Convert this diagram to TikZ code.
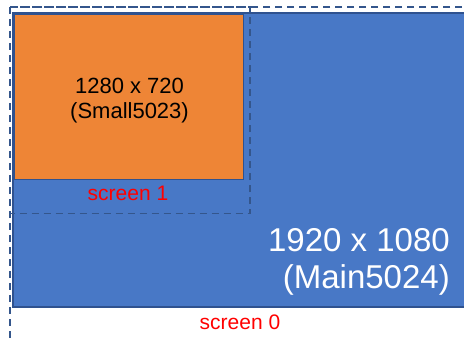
\documentclass[tikz,border=0pt]{standalone}
\usepackage{fontspec}
\setmainfont{Liberation Sans}
\definecolor{mainblue}{HTML}{4878C6}
\definecolor{edgeblue}{HTML}{2F528F}
\definecolor{smallorange}{HTML}{EE8536}
\definecolor{dashblue}{HTML}{34568C}
\tikzset{
  screenbox/.style={draw=dashblue, line width=1.6pt, dash pattern=on 7pt off 5pt},
  monitor/.style={draw=edgeblue, line width=1.3pt},
  smalltext/.style={inner sep=0pt, anchor=base, font=\fontsize{22}{24}\selectfont},
  bigtext/.style={inner sep=0pt, anchor=base east, text=white, font=\fontsize{33}{36}\selectfont},
  screenlabel/.style={text=red, inner sep=0pt, anchor=base, font=\fontsize{21}{24}\selectfont},
}
\begin{document}
\begin{tikzpicture}[x=1pt, y=-1pt]
\useasboundingbox (0,0) rectangle (464,338);
\clip (0,0) rectangle (464,338);
% main monitor
\fill[mainblue] (13,13) rectangle (475,307);
\draw[monitor] (13,13) rectangle (475,307);
% secondary monitor
\fill[smallorange] (14.5,14.5) rectangle (243.5,179.5);
\draw[monitor] (14.5,14.5) rectangle (243.5,179.5);
% screen outlines
\draw[screenbox] (10,7) rectangle (480,345);
\draw[screenbox] (10,7) rectangle (250,213.5);
% resolution labels
\node[smalltext] (smallres) at (129.5,93.5) {1280 x 720};
\node[smalltext] (smallname) at (129.5,118) {(Small5023)};
\node[bigtext] (mainres) at (450,251) {1920 x 1080};
\node[bigtext] (mainname) at (450,288) {(Main5024)};
% screen names
\node[screenlabel] (scr1) at (128,200) {screen 1};
\node[screenlabel] (scr0) at (240,329) {screen 0};
\end{tikzpicture}
\end{document}
